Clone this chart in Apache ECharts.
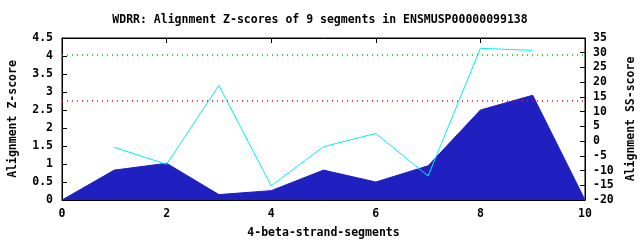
<!DOCTYPE html>
<html><head><meta charset="utf-8">
<script src="https://cdn.jsdelivr.net/npm/echarts@6/dist/echarts.min.js"></script>
<style>html,body{margin:0;padding:0;background:#fff}#c{width:640px;height:240px}</style>
</head><body><div id="c"></div>
<script>
const segments = [0, 1, 2, 3, 4, 5, 6, 7, 8, 9, 10];
const zScores = [0, 0.83, 1.02, 0.15, 0.26, 0.83, 0.5, 0.95, 2.5, 2.91, 0];
const ssScores = [null, -2.1, -7.9, 18.9, -15.2, -1.9, 2.6, -11.85, 31.5, 30.8, null];
const zThresholds = [4.03, 2.77];
const xTicks = [0, 2, 4, 6, 8, 10];

const FONT = 'DejaVu Sans Mono';
const txt = {fontFamily: FONT, fontWeight: 'bold', fontSize: 11.5, color: '#000'};
const zData = segments.map((x, i) => [x, zScores[i]]);
const ssData = segments.map((x, i) => [x, ssScores[i]]).filter(p => p[1] !== null);

const chart = echarts.init(document.getElementById('c'), null, {renderer: 'canvas'});
chart.setOption({
  animation: false,
  backgroundColor: '#fff',
  title: {text: 'WDRR: Alignment Z-scores of 9 segments in ENSMUSP00000099138', left: 'center', top: 9,
    textStyle: Object.assign({}, txt)},
  grid: {left: 62, right: 55, top: 38, bottom: 40, outerBoundsMode: 'none', containLabel: false,
    show: true, borderColor: '#000', borderWidth: 1, backgroundColor: 'transparent'},
  xAxis: [{
    type: 'value', min: xTicks[0], max: xTicks[xTicks.length - 1], interval: 2, position: 'bottom',
    name: '4-beta-strand-segments', nameLocation: 'middle', nameGap: 27, nameTextStyle: Object.assign({}, txt),
    axisLine: {onZero: false, lineStyle: {color: '#000', width: 1}}, axisTick: {inside: true, length: 5, lineStyle: {color: '#000'}},
    axisLabel: Object.assign({margin: 8}, txt), splitLine: {show: false}
  }, {
    type: 'value', min: xTicks[0], max: xTicks[xTicks.length - 1], interval: 2, position: 'top',
    axisLine: {onZero: false, lineStyle: {color: '#000'}}, axisTick: {inside: true, length: 5, lineStyle: {color: '#000'}},
    axisLabel: {show: false}, splitLine: {show: false}
  }],
  yAxis: [{
    type: 'value', min: 0, max: 4.5, interval: 0.5, position: 'left',
    name: 'Alignment Z-score', nameLocation: 'middle', nameGap: 43, nameTextStyle: Object.assign({}, txt),
    axisLine: {show: true, onZero: false, lineStyle: {color: '#000'}}, axisTick: {show: true, inside: true, length: 5, lineStyle: {color: '#000'}},
    axisLabel: Object.assign({margin: 9}, txt), splitLine: {show: false}
  }, {
    type: 'value', min: -20, max: 35, interval: 5, position: 'right',
    name: 'Alignment SS-score', nameLocation: 'middle', nameGap: 40, nameTextStyle: Object.assign({}, txt),
    axisLine: {show: true, onZero: false, lineStyle: {color: '#000'}}, axisTick: {show: true, inside: true, length: 5, lineStyle: {color: '#000'}},
    axisLabel: Object.assign({margin: 8}, txt), splitLine: {show: false}
  }],
  series: [{
    type: 'line', xAxisIndex: 0, yAxisIndex: 0, data: zData, symbol: 'none', silent: true,
    lineStyle: {color: '#2020c0', width: 1}, areaStyle: {color: '#2020c0', opacity: 1}, z: 2,
    markLine: {silent: true, symbol: 'none', label: {show: false}, animation: false,
      data: [
        {yAxis: zThresholds[0], lineStyle: {color: '#00c000', type: [1, 4], width: 1.5, opacity: 1}},
        {yAxis: zThresholds[1], lineStyle: {color: '#ff0000', type: [1, 4], width: 1.5, opacity: 1}}
      ]}
  }, {
    type: 'line', xAxisIndex: 0, yAxisIndex: 1, data: ssData, symbol: 'none', silent: true,
    lineStyle: {color: '#00f0f0', width: 1}, z: 3
  }]
});
</script></body></html>
